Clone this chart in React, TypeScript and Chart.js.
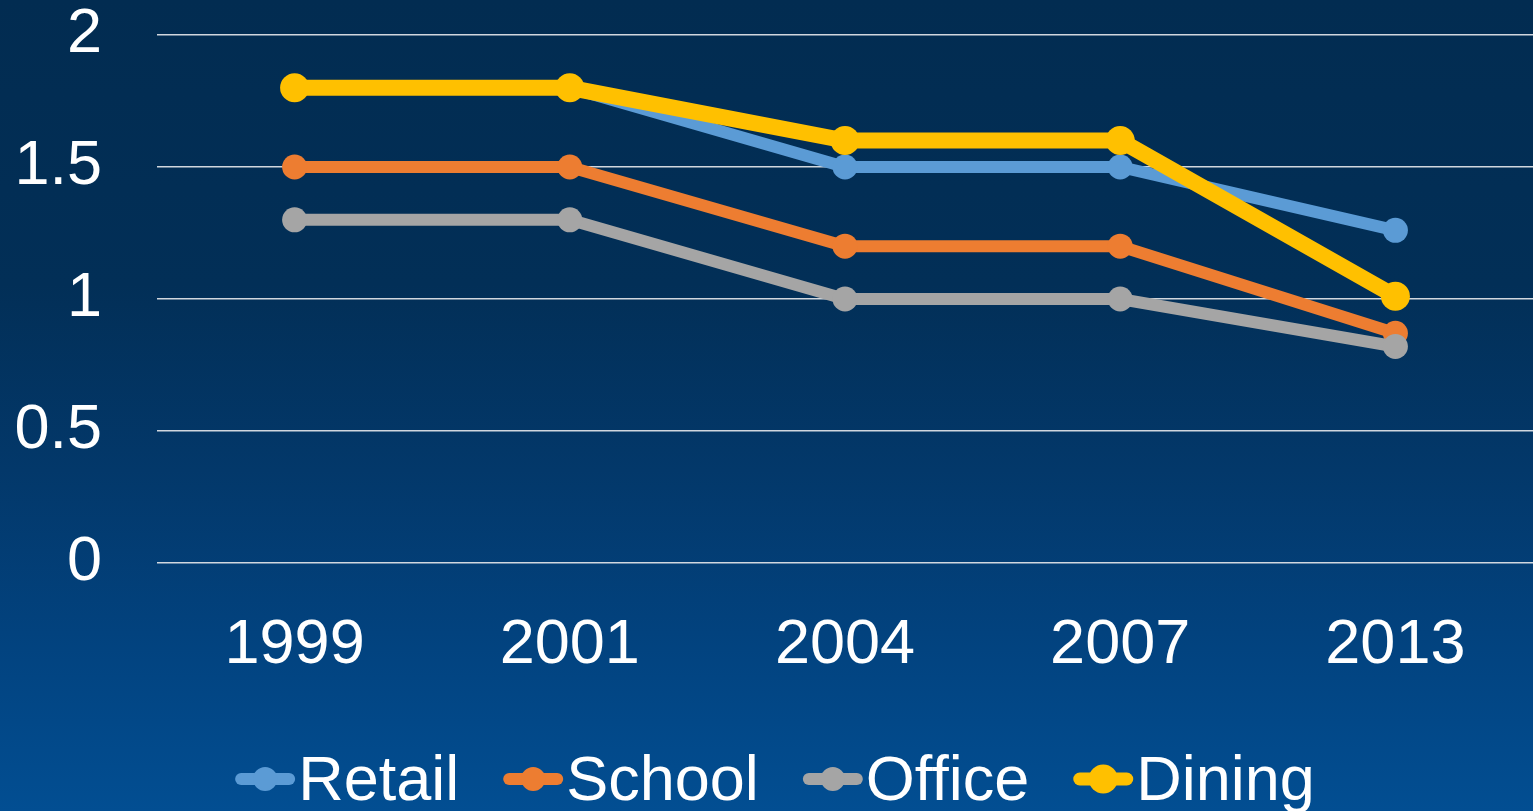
import React, { useEffect, useRef } from "react";
import { Chart, registerables } from "chart.js";

Chart.register(...registerables);

const years = ["1999", "2001", "2004", "2007", "2013"];
const retail = [1.8, 1.8, 1.5, 1.5, 1.26];
const school = [1.5, 1.5, 1.2, 1.2, 0.87];
const office = [1.3, 1.3, 1.0, 1.0, 0.82];
const dining = [1.8, 1.8, 1.6, 1.6, 1.01];
const seriesNames = ["Retail", "School", "Office", "Dining"];
const seriesColors = ["#5B9BD5", "#ED7D31", "#A5A5A5", "#FFC000"];
const yTicks = [0, 0.5, 1, 1.5, 2];

const FONT = "'Liberation Sans', Arial, sans-serif";

const lineLegend = {
  id: "lineLegend",
  afterDraw(chart: any) {
    const ctx = chart.ctx as CanvasRenderingContext2D;
    ctx.save();
    ctx.font = `63px ${FONT}`;
    const markerW = 60;
    const gapText = 3;
    const gapItem = 44;
    const datasets = chart.data.datasets;
    const widths = datasets.map((ds: any) => ctx.measureText(ds.label).width);
    let total = 0;
    widths.forEach((w: number) => (total += markerW + gapText + w));
    total += gapItem * (datasets.length - 1);
    let x = 775 - total / 2;
    const cy = 779;
    const baseY = 800;
    datasets.forEach((ds: any, i: number) => {
      const big = ds.borderWidth > 12;
      const thick = big ? 13 : 12;
      const r = big ? 14.5 : 12;
      ctx.strokeStyle = ds.borderColor;
      ctx.lineWidth = thick;
      ctx.lineCap = "round";
      ctx.beginPath();
      ctx.moveTo(x + thick / 2, cy);
      ctx.lineTo(x + markerW - thick / 2, cy);
      ctx.stroke();
      ctx.fillStyle = ds.borderColor;
      ctx.beginPath();
      ctx.arc(x + markerW / 2, cy, r, 0, Math.PI * 2);
      ctx.fill();
      ctx.fillStyle = "#ffffff";
      ctx.textBaseline = "alphabetic";
      ctx.textAlign = "left";
      ctx.fillText(ds.label, x + markerW + gapText, baseY);
      x += markerW + gapText + widths[i] + gapItem;
    });
    ctx.restore();
  },
};

export default function App() {
  const canvasRef = useRef<HTMLCanvasElement | null>(null);

  useEffect(() => {
    document.body.style.margin = "0";
    const canvas = canvasRef.current;
    if (!canvas) return;
    const seriesData = [retail, school, office, dining];
    const chart = new Chart(canvas, {
      type: "line",
      data: {
        labels: years,
        datasets: seriesNames.map((name, i) => {
          const big = name === "Dining";
          return {
            label: name,
            data: seriesData[i],
            borderColor: seriesColors[i],
            backgroundColor: seriesColors[i],
            pointBackgroundColor: seriesColors[i],
            pointBorderColor: seriesColors[i],
            pointBorderWidth: 0,
            borderWidth: big ? 16 : 12,
            pointRadius: big ? 14.5 : 12.5,
            pointHoverRadius: big ? 14.5 : 12.5,
            tension: 0,
            fill: false,
            clip: false,
            order: seriesNames.length - i,
          };
        }),
      },
      options: {
        animation: false,
        responsive: true,
        maintainAspectRatio: false,
        layout: { autoPadding: false, padding: { top: 35, right: 0, bottom: 0, left: 0 } },
        plugins: {
          legend: { display: false },
          tooltip: { enabled: false },
          title: { display: false },
        },
        scales: {
          x: {
            offset: true,
            grid: { display: false, drawTicks: false },
            border: { display: false },
            ticks: {
              color: "#ffffff",
              font: { family: FONT, size: 63, lineHeight: 1.1 },
              padding: 48,
              maxRotation: 0,
            },
            afterFit: (s: any) => {
              s.height = 248;
              s.paddingLeft = 0;
              s.paddingRight = 0;
              s.paddingTop = 0;
              s.paddingBottom = 0;
            },
          },
          y: {
            min: 0,
            max: 2,
            grid: {
              color: "rgba(220,224,230,0.95)",
              lineWidth: 1.5,
              drawTicks: false,
            },
            border: { display: false },
            ticks: {
              color: "#ffffff",
              font: { family: FONT, size: 63, lineHeight: 1.1 },
              padding: 55,
              callback: (v: any) => String(v),
            },
            afterBuildTicks: (s: any) => {
              s.ticks = yTicks.map((v) => ({ value: v }));
            },
            afterFit: (s: any) => {
              s.width = 157;
              s.paddingTop = 0;
              s.paddingBottom = 0;
              s.paddingLeft = 0;
              s.paddingRight = 0;
            },
          },
        },
      },
      plugins: [lineLegend],
    });
    return () => chart.destroy();
  }, []);

  return (
    <div
      style={{
        position: "fixed",
        left: 0,
        top: 0,
        width: 1533,
        height: 811,
        background:
          "linear-gradient(to bottom, #022c51 0%, #022f57 35%, #03386a 58%, #02427e 78%, #024e92 100%)",
      }}
    >
      <canvas ref={canvasRef} />
    </div>
  );
}
